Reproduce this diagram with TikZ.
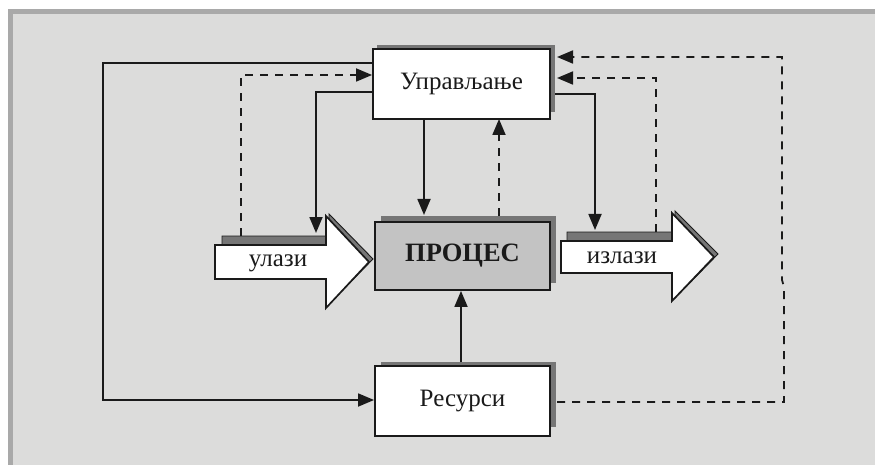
\documentclass[tikz,border=0pt]{standalone}
\usepackage{fontspec}
\setmainfont{Liberation Serif}
\usetikzlibrary{arrows.meta,calc}
\pgfdeclarelayer{back}
\pgfsetlayers{back,main}
\definecolor{panel}{HTML}{DCDCDB}
\definecolor{rim}{HTML}{A9A9A9}
\definecolor{shadowgray}{HTML}{767676}
\definecolor{procfill}{HTML}{C3C3C3}
\definecolor{ink}{HTML}{1A1A1A}

\begin{document}
\begin{tikzpicture}[x=1pt,y=-1pt,
  blockbox/.style={draw=ink, line width=1.9pt, fill=white, inner sep=0pt,
    text=ink, font=\fontsize{25}{28}\selectfont},
  boxshadow/.style={fill=shadowgray},
  flatshadow/.style={fill=shadowgray, draw=ink, line width=0.9pt},
  bigarrow/.style={fill=white, draw=ink, line width=1.7pt, line join=miter},
  label/.style={text=ink, inner sep=0pt, font=\fontsize{25}{28}\selectfont},
  link/.style={draw=ink, line width=1.8pt, -{Triangle[length=16pt,width=13pt]}},
  dlink/.style={link, dash pattern=on 8pt off 7pt}]

  % page and panel
  \useasboundingbox (0,0) rectangle (875,465);
  \begin{pgfonlayer}{back}
    \fill[white] (0,0) rectangle (875,465);
    \fill[rim] (7.5,9) rectangle (875,465);
    \fill[panel] (12.5,14) rectangle (875,465);
  \end{pgfonlayer}

  % box shadows
  \fill[boxshadow] (377,45) rectangle (555,112);
  \fill[boxshadow] (381,216) rectangle (556,283);
  \fill[boxshadow] (381,362) rectangle (556,427);

  % boxes
  \node[blockbox, minimum width=177pt, minimum height=70pt] (ctrl) at (461.5,84) {Управљање};
  \node[blockbox, fill=procfill, minimum width=175pt, minimum height=68pt,
        font=\fontsize{26.5}{30}\selectfont\bfseries] (proc) at (462.5,256) {ПРОЦЕС\hspace{4pt}};
  \node[blockbox, minimum width=175pt, minimum height=70pt] (res) at (462.5,401) {Ресурси};

  % input block arrow
  \draw[flatshadow] (222,236) -- (329,236) -- (329,214) -- (373,259) -- (329,304)
        -- (329,270) -- (222,270) -- cycle;
  \draw[bigarrow] (215,245) -- (326,245) -- (326,216) -- (369,262) -- (326,308)
        -- (326,279) -- (215,279) -- cycle;
  \node[label] (inlab) at (278,263) {улази};
  \coordinate (inA) at (241,236);
  \coordinate (inB) at (316,233);

  % output block arrow
  \draw[flatshadow] (567,232) -- (675,232) -- (675,211) -- (718,254) -- (675,298)
        -- (675,264) -- (567,264) -- cycle;
  \draw[bigarrow] (561,241) -- (672,241) -- (672,213) -- (714,257) -- (672,301)
        -- (672,273) -- (561,273) -- cycle;
  \node[label] (outlab) at (622,258) {излази};
  \coordinate (outA) at (595,230);
  \coordinate (outB) at (656,232);

  % control loops on the left
  \draw[link] (ctrl.west |- 0,63) -| (103,400) -- (res.west |- 0,400);
  \draw[dlink] (inA) |- (ctrl.west |- 0,75);
  \draw[link] (ctrl.west |- 0,92) -| (inB);

  % vertical links between the boxes
  \draw[link] (424,119) -- (424,215);
  \draw[dlink] (499,216) -- (499,119);
  \draw[link] (461,362) -- (proc.south -| 461,0);

  % loops on the right
  \draw[link] (555,94) -| (outA);
  \draw[dlink] (outB) |- (557,78);
  \draw[dlink] (557,402) -- (784,402) -- (784,287) -- (782,280) -- (782,57) -- (557,57);
\end{tikzpicture}
\end{document}
